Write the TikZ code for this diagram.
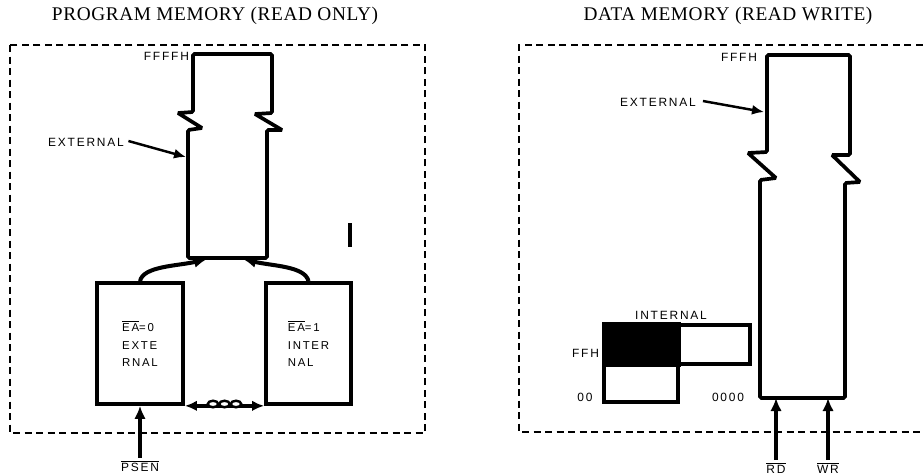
\documentclass[tikz,border=0pt]{standalone}
\usepackage{fontspec}
\setmainfont{Liberation Serif}
\newfontfamily\lblfont{Liberation Sans}[LetterSpace=15]
\newfontfamily\headfont{Liberation Serif}[LetterSpace=3]
\usetikzlibrary{arrows.meta, positioning}

\begin{document}
\begin{tikzpicture}[
        x=0.2mm, y=-0.2mm,
        heading/.style={font=\headfont\fontsize{11}{12}\selectfont},
        region/.style={line width=1.5pt, dash pattern=on 1.4mm off 0.9mm},
        block/.style={line width=2.1pt, rounded corners=0.8pt},
        memory/.style={rectangle, draw, line width=2.1pt, fill=white,
                       font=\lblfont\fontsize{6.5}{10}\selectfont, align=left, inner sep=0pt},
        tag/.style={font=\lblfont\fontsize{6.8}{8}\selectfont, inner sep=1pt},
        arrow/.style={-{Latex[length=2.6mm, width=2.3mm]}, line width=2.3pt},
        pointer/.style={-{Latex[length=2.4mm, width=2mm]}, line width=1.4pt},
        both/.style={{Latex[length=2.4mm, width=2.1mm]}-{Latex[length=2.4mm, width=2.1mm]}, line width=2.1pt}
    ]
        \useasboundingbox (0,0) rectangle (924,475);

        \node[heading] (prog_title) at (215,16) {PROGRAM MEMORY (READ ONLY)};
        \node[heading] (data_title) at (728,16) {DATA MEMORY (READ WRITE)};

        \draw[region] (10,45) rectangle (425,433);
        \draw[region] (934,45) -| (519,432) -- (934,432);

        \draw[block] (193,54) -- (272,54) -- (272,113) -- (255,114) -- (282,130) -- (267,130)
            -- (267,258) -- (188,258) -- (188,130) -- (202,128) -- (178,113) -- (193,112) -- cycle;
        \coordinate (prog_in_l) at (207,259);
        \coordinate (prog_in_r) at (243,259);
        \coordinate (prog_side) at (186,157);
        \node[tag, anchor=east] (prog_top) at (191,56) {FFFFH};
        \node[tag] (prog_ext) at (86,142) {EXTERNAL};
        \draw[pointer] (prog_ext.east) ++(0.5mm,0.2mm) -- (prog_side);

        \node[memory, minimum width=17.2mm, minimum height=24.2mm] (ea_zero) at (140,343.5)
            {$\overline{\mbox{EA}}$=0\\EXTE\\RNAL};
        \node[memory, minimum width=17mm, minimum height=24.2mm] (ea_one) at (308.5,343.5)
            {$\overline{\mbox{EA}}$=1\\INTER\\NAL};
        \draw[arrow] (ea_zero.north) .. controls (143,266) and (178,266) .. (prog_in_l);
        \draw[arrow] (ea_one.north) .. controls (305,266) and (272,266) .. (prog_in_r);
        \draw[both] (ea_zero.south east) -- (ea_one.south west);
        \foreach \cx in {213,224.5,236}
            \draw[line width=1.4pt, fill=white] (\cx,404) ellipse [x radius=1.05mm, y radius=0.65mm];
        \draw[line width=0.9mm] (350,223) -- (350,247);

        \node[tag] (psen) at (140,466) {$\overline{\mbox{PSEN}}$};
        \draw[arrow] (psen.north) -- (ea_zero.south);

        \draw[block] (767,55) -- (850,55) -- (850,155) -- (832,155) -- (860,182) -- (845,183)
            -- (845,398) -- (760,398) -- (760,180) -- (776,178) -- (748,153) -- (767,152) -- cycle;
        \coordinate (data_bot) at (800,398);
        \coordinate (data_side) at (764,112);
        \node[tag, anchor=east] (data_top) at (759,57) {FFFH};
        \node[tag] (data_ext) at (658,102) {EXTERNAL};
        \draw[pointer] (data_ext.east) ++(1mm,0.2mm) -- (data_side);

        \node[tag] (int_lbl) at (671,315) {INTERNAL};
        \node[memory, fill=black, minimum width=15mm, minimum height=8.2mm] (int_ff) at (641.5,344.5) {};
        \node[memory, minimum width=14.2mm, minimum height=7.8mm] (int_sfr) at (714.5,344.5) {};
        \node[memory, minimum width=14.8mm, minimum height=7.4mm] (int_low) at (641,383.5) {};
        \node[tag, anchor=east] (int_top) at (601,353) {FFH};
        \node[tag] (int_zero) at (585,397) {00};
        \node[tag] (data_zero) at (728,397) {0000};

        \node[tag] (rd) at (776,468) {$\overline{\mbox{RD}}$};
        \node[tag] (wr) at (828,468) {$\overline{\mbox{WR}}$};
        \draw[arrow] (rd.north) -- (rd.north |- data_bot);
        \draw[arrow] (wr.north) -- (wr.north |- data_bot);
    \end{tikzpicture}
\end{document}
